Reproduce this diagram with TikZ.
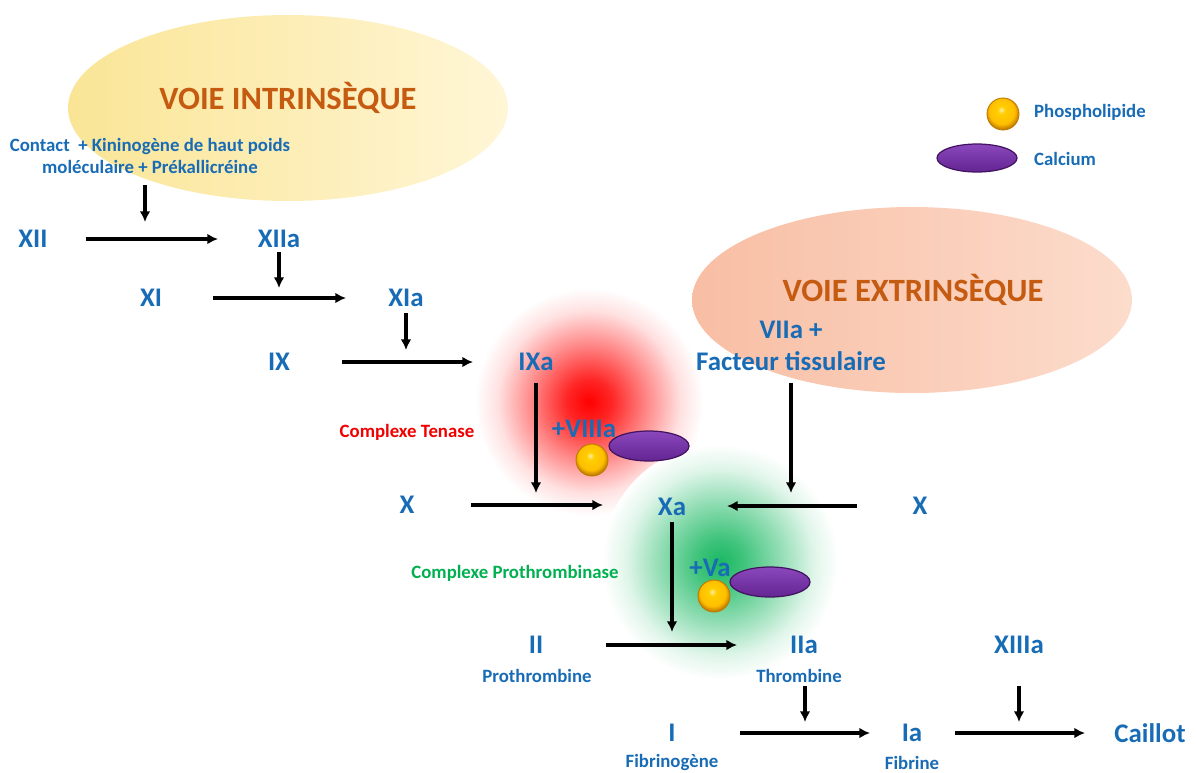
\documentclass[tikz,border=0pt]{standalone}
\usepackage{fontspec}
\setmainfont{Carlito}
\usetikzlibrary{arrows.meta}
\definecolor{facblue}{RGB}{24,108,182}
\definecolor{voieorange}{RGB}{197,90,17}
\definecolor{tenred}{RGB}{240,0,0}
\definecolor{prothgreen}{RGB}{0,176,80}
\definecolor{intrinA}{RGB}{250,229,150}
\definecolor{intrinB}{RGB}{255,246,214}
\definecolor{extrinA}{RGB}{248,190,164}
\definecolor{extrinB}{RGB}{252,220,204}
\definecolor{calcA}{RGB}{138,72,188}
\definecolor{calcB}{RGB}{100,36,146}
\definecolor{calcC}{RGB}{66,20,96}
\definecolor{phosA}{RGB}{255,206,0}
\definecolor{phosB}{RGB}{190,122,0}
\pgfdeclareradialshading{tenaseglow}{\pgfpoint{0bp}{0bp}}{color(0bp)=(red); color(5bp)=(red!85); color(13bp)=(red!45); color(20bp)=(red!12); color(25bp)=(white); color(50bp)=(white)}
\pgfdeclareradialshading{prothglow}{\pgfpoint{0bp}{0bp}}{color(0bp)=(prothgreen!90); color(5bp)=(prothgreen!75); color(13bp)=(prothgreen!42); color(20bp)=(prothgreen!12); color(25bp)=(white); color(50bp)=(white)}
\pgfdeclareradialshading{phosball}{\pgfpoint{-3bp}{7bp}}{color(0bp)=(phosA!35!white); color(6bp)=(phosA); color(20bp)=(phosA!80!orange); color(27bp)=(phosB); color(50bp)=(phosB)}

\begin{document}
\begin{tikzpicture}[x=0.02cm,y=-0.02cm,
    fac/.style={text=facblue,font=\fontsize{15.3}{18}\selectfont\bfseries},
    lbl/.style={text=facblue,font=\fontsize{10.7}{12.5}\selectfont\bfseries},
    voie/.style={text=voieorange,font=\fontsize{18.5}{20}\selectfont\bfseries},
    flow/.style={line width=1.8pt,-{Latex[length=6pt,width=6pt]}},
    calcium/.style={top color=calcA,bottom color=calcB,draw=calcC,line width=0.7pt},
    phospho/.style={shading=phosball,draw=phosB,line width=0.5pt}]
\useasboundingbox (0,0) rectangle (1197,772);

\shade[shading=tenaseglow] (589,402) circle (114);
\shade[shading=prothglow] (720,562) circle (118);
\shade[left color=intrinA,right color=intrinB] (288,108) ellipse (220 and 93);
\shade[left color=extrinA,right color=extrinB] (912,300) ellipse (220 and 93);

\node[voie] (intrin) at (288,98) {VOIE INTRINSÈQUE};
\node[voie] (extrin) at (913,290) {VOIE EXTRINSÈQUE};
\node[lbl,align=center] (contact) at (150,156) {Contact~ + Kininogène de haut poids\\moléculaire + Prékallicréine};

\node[fac] (XII) at (33,239) {XII};
\node[fac] (XIIa) at (279,239) {XIIa};
\node[fac] (XI) at (151,298) {XI};
\node[fac] (XIa) at (406,298) {XIa};
\node[fac] (IX) at (279,362) {IX};
\node[fac] (IXa) at (536,362) {IXa};
\node[fac,align=center] (tf) at (791,346) {VIIa +\\Facteur tissulaire};
\node[fac] (Xl) at (407,505) {X};
\node[fac] (Xa) at (672,507) {Xa};
\node[fac] (Xr) at (920,506) {X};
\node[fac] (II) at (536,645) {II};
\node[fac] (IIa) at (804,645) {IIa};
\node[fac] (XIIIa) at (1019,645) {XIIIa};
\node[fac] (I) at (672,733) {I};
\node[fac] (Ia) at (912,733) {Ia};
\node[fac] (caillot) at (1150,733) {Caillot};

\node[lbl] (prothr) at (537,676) {Prothrombine};
\node[lbl] (thromb) at (799,676) {Thrombine};
\node[lbl] (fibrinog) at (672,762) {Fibrinogène};
\node[lbl] (fibrine) at (912,763) {Fibrine};
\node[lbl,text=tenred] (tenase) at (407,432) {Complexe Tenase};
\node[lbl,text=prothgreen] (prothase) at (515,573) {Complexe Prothrombinase};

\node[fac] (VIIIa) at (584,429) {+VIIIa};
\shade[calcium] (649,446) ellipse (40 and 15);
\shade[phospho] (592,460) circle (16);
\node[fac] (Va) at (710,568) {+Va};
\shade[calcium] (770,582) ellipse (40 and 15);
\shade[phospho] (714,596) circle (16);

\shade[phospho] (1003,114) circle (16);
\node[lbl,anchor=west] (phosleg) at (1028,112) {Phospholipide};
\shade[calcium] (977,158) ellipse (40 and 14);
\node[lbl,anchor=west] (calcleg) at (1028,159) {Calcium};

\coordinate (c0) at (145,237);
\coordinate (c1) at (279,297);
\coordinate (c2) at (406,361);
\coordinate (c3) at (536,504);
\coordinate (c4) at (791,504);
\coordinate (c5) at (672,644);
\coordinate (c6) at (805,732);
\coordinate (c7) at (1019,732);

\draw[flow,shorten <=1.06cm,shorten >=1.22cm] (XII.center) -- (XIIa.center);
\draw[flow,shorten <=1.24cm,shorten >=1.2cm] (XI.center) -- (XIa.center);
\draw[flow,shorten <=1.26cm,shorten >=1.26cm] (IX.center) -- (IXa.center);
\draw[flow,shorten <=1.28cm,shorten >=1.38cm] (Xl.center) -- (Xa.center |- Xl.center);
\draw[flow,shorten <=1.26cm,shorten >=1.1cm] (Xr.center) -- (Xa.center |- Xr.center);
\draw[flow,shorten <=1.4cm,shorten >=1.34cm] (II.center) -- (IIa.center);
\draw[flow,shorten <=1.36cm,shorten >=0.84cm] (I.center) -- (Ia.center);
\draw[flow,shorten <=0.86cm,shorten >=1.3cm] (Ia.center) -- (caillot.center);

\draw[flow,shorten <=0.58cm,shorten >=0.3cm] (contact.center -| c0) -- (c0);
\draw[flow,shorten <=0.26cm,shorten >=0.18cm] (XIIa.center) -- (c1);
\draw[flow,shorten <=0.3cm,shorten >=0.22cm] (XIa.center) -- (c2);
\draw[flow,shorten <=0.42cm,shorten >=0.22cm] (IXa.center) -- (c3);
\draw[flow,shorten <=0.74cm,shorten >=0.22cm] (tf.center -| c4) -- (c4);
\draw[flow,shorten <=0.3cm,shorten >=0.24cm] (Xa.center) -- (c5);
\draw[flow,shorten <=0.82cm,shorten >=0.2cm] (IIa.center -| c6) -- (c6);
\draw[flow,shorten <=0.82cm,shorten >=0.2cm] (XIIIa.center) -- (c7);
\end{tikzpicture}
\end{document}
